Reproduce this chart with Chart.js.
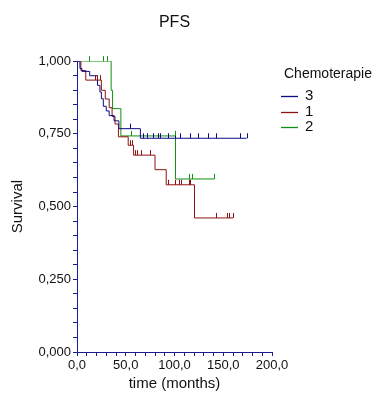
<!DOCTYPE html>
<html>
<head>
<meta charset="utf-8">
<script src="https://cdn.jsdelivr.net/npm/chart.js@4.4.1/dist/chart.umd.min.js"></script>
<style>
  html, body { margin: 0; padding: 0; background: #fff; }
  #wrap { width: 379px; height: 398px; position: relative; }
</style>
</head>
<body>
<div id="wrap"><canvas id="pfsChart"></canvas></div>
<script>
// ----- data (time in months, survival) -----
const groupLabels = ['3', '1', '2'];

// group 3
const timeG3 = [0, 3, 5, 13, 21, 23.5, 25, 27, 30, 33, 38, 43, 65, 174];
const survG3 = [1.000, 0.975, 0.965, 0.950, 0.917, 0.894, 0.871, 0.845, 0.829, 0.813, 0.795, 0.768, 0.735, 0.735];
const censorG3 = [54, 68, 71.5, 78, 83, 85, 93.5, 100.5, 105.5, 116, 124.5, 134, 142.5, 167, 174];

// group 1
const timeG1 = [0, 4, 9, 25, 29, 33, 36, 39, 42.5, 52.5, 58, 80, 91.5, 120.5, 160];
const survG1 = [1.000, 0.968, 0.935, 0.900, 0.870, 0.840, 0.810, 0.784, 0.740, 0.711, 0.677, 0.627, 0.575, 0.461, 0.461];
const censorG1 = [18, 21, 24, 54, 56, 59.5, 62, 66, 75, 93.5, 101, 104.5, 106.5, 115, 116, 143, 153.5, 156, 160];

// group 2
const timeG2 = [0, 35, 36.5, 45, 101, 141];
const survG2 = [1.000, 0.900, 0.837, 0.743, 0.595, 0.595];
const censorG2 = [12, 27, 30.5, 55, 100, 114.5, 117.5, 141];

const colors = ['#0c0c86', '#8e1212', '#109010'];
const axisColor = '#1c1c8e';
const fontFamily = "'Liberation Sans', Arial, sans-serif";

// survival value at time t (step function)
function survAt(times, surv, t) {
    let v = surv[0];
    for (let i = 0; i < times.length; i++) {
        if (times[i] <= t) v = surv[i];
    }
    return v;
}

function toPoints(times, surv) {
    return times.map((t, i) => ({ x: t, y: surv[i] }));
}

const curves = [
    { times: timeG3, surv: survG3, censor: censorG3 },
    { times: timeG1, surv: survG1, censor: censorG1 },
    { times: timeG2, surv: survG2, censor: censorG2 }
];

// censor ticks (small vertical marks above the curve)
const censorPlugin = {
    id: 'censorTicks',
    afterDatasetsDraw(chart) {
        const ctx = chart.ctx;
        const xs = chart.scales.x, ys = chart.scales.y;
        ctx.save();
        ctx.lineWidth = 1;
        curves.forEach((c, k) => {
            ctx.strokeStyle = colors[k];
            c.censor.forEach(t => {
                const px = Math.round(xs.getPixelForValue(t)) + 0.5;
                const py = ys.getPixelForValue(survAt(c.times, c.surv, t));
                ctx.beginPath();
                ctx.moveTo(px, py);
                ctx.lineTo(px, py - 5);
                ctx.stroke();
            });
        });
        ctx.restore();
    }
};

// legend with title on the right side
const legendPlugin = {
    id: 'sideLegend',
    afterDraw(chart) {
        const ctx = chart.ctx;
        ctx.save();
        ctx.fillStyle = '#111';
        ctx.textBaseline = 'middle';
        ctx.textAlign = 'left';
        ctx.font = '14px ' + fontFamily;
        ctx.fillText('Chemoterapie', 284, 74);
        ctx.font = '15px ' + fontFamily;
        chart.data.datasets.forEach((ds, i) => {
            const y = 96 + Math.round(i * 15.5);
            ctx.strokeStyle = colors[i];
            ctx.lineWidth = 1.3;
            ctx.beginPath();
            ctx.moveTo(281, y + 0.5);
            ctx.lineTo(298, y + 0.5);
            ctx.stroke();
            ctx.fillText(ds.label, 305, y);
        });
        ctx.restore();
    }
};

const ctx = document.getElementById('pfsChart').getContext('2d');
new Chart(ctx, {
    type: 'line',
    data: {
        datasets: curves.map((c, k) => ({
            label: groupLabels[k],
            data: toPoints(c.times, c.surv),
            borderColor: colors[k],
            borderWidth: 1,
            stepped: true,
            pointRadius: 0,
            fill: false
        }))
    },
    options: {
        responsive: true,
        maintainAspectRatio: false,
        animation: false,
        devicePixelRatio: 1,
        layout: { padding: { left: 0, right: 107, top: 0, bottom: 0 } },
        plugins: {
            legend: { display: false },
            tooltip: { enabled: false },
            title: {
                display: true,
                text: 'PFS',
                fullSize: false,
                color: '#111',
                font: { family: fontFamily, size: 16, weight: 'normal' },
                padding: { top: 13, bottom: 29 }
            }
        },
        scales: {
            x: {
                type: 'linear',
                min: 0,
                max: 200,
                afterFit(scale) { scale.height = 46; },
                border: { display: true, color: axisColor, width: 1 },
                grid: { display: true, drawOnChartArea: false, drawTicks: true, tickLength: 4, color: axisColor },
                ticks: {
                    stepSize: 10,
                    autoSkip: false,
                    maxRotation: 0,
                    padding: 2,
                    color: '#111',
                    font: { family: fontFamily, size: 13 },
                    callback: v => (Math.round(v) % 50 === 0 ? v.toFixed(1).replace('.', ',') : '')
                },
                title: {
                    display: true,
                    text: 'time (months)',
                    color: '#111',
                    font: { family: fontFamily, size: 15 },
                    padding: { top: 0, bottom: 5 }
                }
            },
            y: {
                min: 0,
                max: 1,
                afterFit(scale) { scale.width = 77; },
                border: { display: true, color: axisColor, width: 1 },
                grid: { display: true, drawOnChartArea: false, drawTicks: true, tickLength: 4, color: axisColor },
                ticks: {
                    stepSize: 0.05,
                    autoSkip: false,
                    padding: 2,
                    color: '#111',
                    font: { family: fontFamily, size: 13 },
                    callback: v => (Math.abs(v * 4 - Math.round(v * 4)) < 1e-6 ? v.toFixed(3).replace('.', ',') : '')
                },
                title: {
                    display: true,
                    text: 'Survival',
                    color: '#111',
                    font: { family: fontFamily, size: 15 },
                    padding: { top: 9, bottom: 0 }
                }
            }
        }
    },
    plugins: [censorPlugin, legendPlugin]
});
</script>
</body>
</html>
